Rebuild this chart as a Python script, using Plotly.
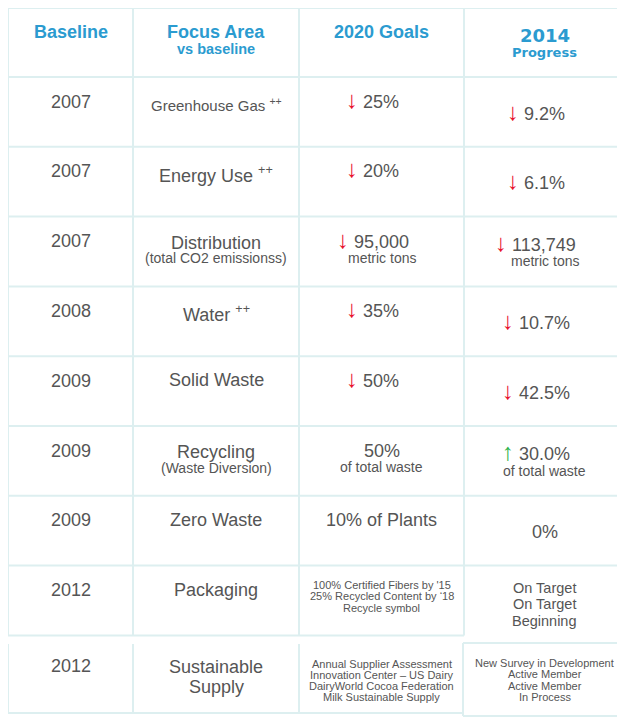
import plotly.graph_objects as go

# ---------------------------------------------------------------
# table content
# ---------------------------------------------------------------
header_main = ["Baseline", "Focus Area", "2020 Goals", "2014"]
header_sub = ["", "vs baseline", "", "Progress"]

baseline_year = ["2007", "2007", "2007", "2008", "2009", "2009", "2009", "2012", "2012"]
focus_area = ["Greenhouse Gas", "Energy Use", "Distribution", "Water", "Solid Waste",
              "Recycling", "Zero Waste", "Packaging", "Sustainable\nSupply"]
focus_mark = ["++", "++", "", "++", "", "", "", "", ""]
focus_note = ["", "", "(total CO2 emissionss)", "", "", "(Waste Diversion)", "", "", ""]

goal_trend = ["down", "down", "down", "down", "down", "", "", "", ""]
goal_value = ["25%", "20%", "95,000", "35%", "50%", "50%", "10% of Plants", "", ""]
goal_note = ["", "", "metric tons", "", "", "of total waste", "", "", ""]
goal_items = [[], [], [], [], [], [], [],
              ["100% Certified Fibers by '15", "25% Recycled Content by \u201818", "Recycle symbol"],
              ["Annual Supplier Assessment", "Innovation Center \u2013 US Dairy",
               "DairyWorld Cocoa Federation", "Milk Sustainable Supply"]]

progress_trend = ["down", "down", "down", "down", "down", "up", "", "", ""]
progress_value = ["9.2%", "6.1%", "113,749", "10.7%", "42.5%", "30.0%", "0%", "", ""]
progress_note = ["", "", "metric tons", "", "", "of total waste", "", "", ""]
progress_items = [[], [], [], [], [], [], [],
                  ["On Target", "On Target", "Beginning"],
                  ["New Survey in Development", "Active Member", "Active Member", "In Process"]]

# ---------------------------------------------------------------
# look & geometry (axis units = page pixels, page has an 8px body margin)
# ---------------------------------------------------------------
W, H = 625, 723
PAGE_MARGIN = 8
FONT = "Arial, Liberation Sans, sans-serif"
NARROW = "Liberation Sans Narrow, Arial Narrow, Arial, sans-serif"
INK = "#555555"
BLUE = "#2b9bd0"
GRID = "#ddeff0"
ARROW = {"down": ("\u2193", "#e8122d"), "up": ("\u2191", "#2db34a")}

col_edges = [8, 133, 299, 464, 625]
col_mid = [(a + b) / 2 for a, b in zip(col_edges[:-1], col_edges[1:])]
head_top, body_top, row_h = 8, 77, 69.8
n = len(baseline_year)
row_top = [body_top + i * row_h for i in range(n - 1)] + [644]
pack_bottom = row_top[n - 2] + row_h

shapes = []
annotations = []


def line(x0, y0, x1, y1):
    shapes.append(dict(type="line", xref="x", yref="y", x0=x0, y0=y0, x1=x1, y1=y1,
                       line=dict(color=GRID, width=2)))


def put(col, y, text, size, color=INK, family=FONT, xshift=0):
    annotations.append(dict(x=col_mid[col], y=y, xref="x", yref="y", text=text,
                            showarrow=False, xanchor="center", yanchor="middle",
                            xshift=xshift, font=dict(size=size, color=color, family=family)))


def with_arrow(trend, value):
    if not trend:
        return value
    glyph, colour = ARROW[trend]
    return "<span style='color:%s;font-size:24px'>%s</span> %s" % (colour, glyph, value)


# grid lines
line(col_edges[0], head_top, col_edges[-1], head_top)
for i in range(n - 1):
    line(col_edges[0], row_top[i], col_edges[-1], row_top[i])
line(col_edges[0], pack_bottom, col_edges[3], pack_bottom)
line(col_edges[3] - 1, row_top[-1] - 1, col_edges[-1], row_top[-1] - 1)
line(col_edges[0], 713, col_edges[3], 713)
line(col_edges[3] - 1, 716, col_edges[-1], 716)
for x in col_edges[:4]:
    line(x, head_top, x, pack_bottom)
for x in col_edges[:3]:
    line(x, row_top[-1], x, 713)
line(col_edges[3] - 1, row_top[-1] - 1, col_edges[3] - 1, 716)

# header
for c in range(4):
    fam = "DejaVu Sans, Verdana, sans-serif" if c == 3 else FONT
    main_dy = 27 if c == 3 else 24
    put(c, head_top + main_dy, "<b>%s</b>" % header_main[c], 18, BLUE, fam)
    if header_sub[c]:
        put(c, head_top + main_dy + 17, "<b>%s</b>" % header_sub[c], 13 if c == 3 else 14.5, BLUE, fam)

# body
for r in range(n):
    top = row_top[r]
    last = r == n - 1

    # baseline year
    put(0, top + (22 if last else 24.5), baseline_year[r], 18)

    # focus area
    parts = focus_area[r].split("\n")
    if focus_note[r]:
        put(1, top + 26, parts[0], 18)
        put(1, top + 41.5, focus_note[r], 14)
    elif len(parts) > 1:
        for k, p in enumerate(parts):
            put(1, top + 23 + 19.5 * k, p, 18)
    elif focus_mark[r]:
        size = 15 if r == 0 else 18
        put(1, top + 27.5, "%s <sup>%s</sup>" % (parts[0], focus_mark[r]), size)
    else:
        put(1, top + 24, parts[0], 18)

    # 2020 goals (arrow lines sit a touch higher because of the taller glyph)
    lift = 2 if goal_trend[r] else 0
    shift = -9 if goal_trend[r] else 0
    if goal_value[r]:
        if goal_note[r]:
            put(2, top + 25 - lift, with_arrow(goal_trend[r], goal_value[r]), 18, xshift=shift)
            put(2, top + 41, goal_note[r], 14)
        else:
            put(2, top + 24 - lift, with_arrow(goal_trend[r], goal_value[r]), 18, xshift=shift)
    for k, item in enumerate(goal_items[r]):
        put(2, top + 19.5 + 11.3 * k, item, 11, family=NARROW)

    # 2014 progress
    lift = 2 if progress_trend[r] else 0
    shift = -9 if progress_trend[r] else 0
    if progress_value[r]:
        if progress_note[r]:
            put(3, top + 27.5 - lift, with_arrow(progress_trend[r], progress_value[r]), 18, xshift=shift)
            put(3, top + 44.5, progress_note[r], 14)
        else:
            put(3, top + 36 - lift, with_arrow(progress_trend[r], progress_value[r]), 18, xshift=shift)
    if last:
        for k, item in enumerate(progress_items[r]):
            put(3, top + 19 + 11.3 * k, item, 11, family=NARROW)
    else:
        for k, item in enumerate(progress_items[r]):
            put(3, top + 22 + 16.5 * k, item, 14.5)

fig = go.Figure()
fig.update_layout(
    width=W - PAGE_MARGIN, height=H - PAGE_MARGIN,
    margin=dict(l=0, r=0, t=0, b=0),
    paper_bgcolor="white", plot_bgcolor="white",
    xaxis=dict(range=[PAGE_MARGIN, W], visible=False, fixedrange=True),
    yaxis=dict(range=[H, PAGE_MARGIN], visible=False, fixedrange=True),
    shapes=shapes,
    annotations=annotations,
    showlegend=False,
)
fig.write_html("out.html")
